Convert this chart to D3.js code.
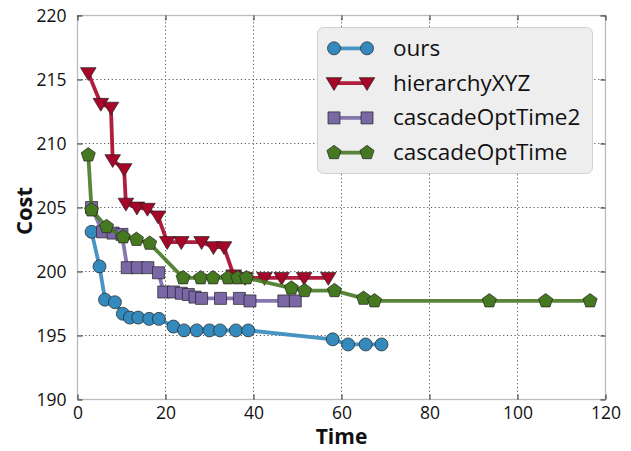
<!DOCTYPE html>
<html>
<head>
<meta charset="utf-8">
<script src="https://cdn.jsdelivr.net/npm/d3@7"></script>
<style>
  body { margin: 0; background: #fff; }
  text { font-family: "Open Sans", "DejaVu Sans", sans-serif; fill: #111; }
</style>
</head>
<body>
<div id="chart"></div>
<script>
// data
const seriesNames = ["ours", "hierarchyXYZ", "cascadeOptTime2", "cascadeOptTime"];

const oursTime = [3.2, 5.0, 6.25, 8.5, 10.3, 11.9, 13.8, 16.3, 18.5, 21.8, 24.2, 27.1, 30.0, 32.4, 36.0, 38.8, 58.0, 61.5, 65.5, 69.1];
const oursCost = [203.1, 200.4, 197.8, 197.6, 196.7, 196.4, 196.4, 196.3, 196.3, 195.7, 195.4, 195.4, 195.4, 195.4, 195.4, 195.4, 194.7, 194.3, 194.3, 194.3];

const hierTime = [2.45, 5.3, 7.6, 8.0, 10.6, 11.0, 13.5, 15.9, 18.3, 20.4, 23.6, 28.2, 30.9, 33.3, 35.5, 38.1, 42.5, 46.4, 51.5, 57.0];
const hierCost = [215.5, 213.1, 212.8, 208.7, 208.0, 205.3, 205.0, 204.9, 204.3, 202.3, 202.3, 202.3, 201.9, 201.9, 199.7, 199.5, 199.5, 199.5, 199.5, 199.5];

const cot2Time = [3.2, 5.7, 8.1, 10.1, 11.3, 13.6, 16.0, 18.4, 19.6, 21.8, 23.6, 25.2, 26.7, 28.2, 32.5, 36.8, 39.2, 46.9, 49.5];
const cot2Cost = [205.0, 203.1, 203.0, 202.9, 200.3, 200.3, 200.3, 199.9, 198.4, 198.4, 198.3, 198.2, 198.0, 197.9, 197.9, 197.9, 197.7, 197.7, 197.7];

const cotTime = [2.45, 3.2, 6.6, 10.4, 13.4, 16.4, 24.0, 28.0, 30.8, 34.2, 36.4, 38.4, 48.6, 51.6, 58.4, 65.0, 67.5, 93.6, 106.4, 116.5];
const cotCost = [209.1, 204.8, 203.5, 202.7, 202.5, 202.2, 199.5, 199.5, 199.5, 199.5, 199.5, 199.5, 198.7, 198.5, 198.5, 197.9, 197.7, 197.7, 197.7, 197.7];

const xTicks = [0, 20, 40, 60, 80, 100, 120];
const yTicks = [190, 195, 200, 205, 210, 215, 220];

const colors = ["#348ABD", "#A60628", "#7A68A6", "#467821"];
const shapes = ["circle", "triangleDown", "square", "pentagon"];

const allSeries = [
  { name: seriesNames[0], time: oursTime, cost: oursCost },
  { name: seriesNames[1], time: hierTime, cost: hierCost },
  { name: seriesNames[2], time: cot2Time, cost: cot2Cost },
  { name: seriesNames[3], time: cotTime, cost: cotCost },
];

const width = 631, height = 451;
const margin = { top: 15.5, right: 25.5, bottom: 51.5, left: 77.5 };

const svg = d3.select("#chart").append("svg")
  .attr("width", width)
  .attr("height", height);

const x = d3.scaleLinear().domain([0, 120]).range([margin.left, width - margin.right]);
const y = d3.scaleLinear().domain([190, 220]).range([height - margin.bottom, margin.top]);

// grid, dotted
svg.append("g").selectAll("line").data(xTicks).enter().append("line")
  .attr("x1", d => x(d)).attr("x2", d => x(d))
  .attr("y1", y(190)).attr("y2", y(220))
  .attr("stroke", "#444").attr("stroke-width", 0.9).attr("stroke-dasharray", "1.2,2.6");
svg.append("g").selectAll("line").data(yTicks).enter().append("line")
  .attr("y1", d => y(d)).attr("y2", d => y(d))
  .attr("x1", x(0)).attr("x2", x(120))
  .attr("stroke", "#444").attr("stroke-width", 0.9).attr("stroke-dasharray", "1.2,2.6");

// frame
svg.append("rect")
  .attr("x", x(0)).attr("y", y(220))
  .attr("width", x(120) - x(0)).attr("height", y(190) - y(220))
  .attr("fill", "none").attr("stroke", "#bcbcbc").attr("stroke-width", 1.3);

// axes with inward ticks on all four sides
const bottomAxis = svg.append("g").attr("transform", `translate(0,${y(190)})`)
  .call(d3.axisBottom(x).tickValues(xTicks).tickSize(-5).tickPadding(7));
const topAxis = svg.append("g").attr("transform", `translate(0,${y(220)})`)
  .call(d3.axisTop(x).tickValues(xTicks).tickSize(-5).tickFormat(""));
const leftAxis = svg.append("g").attr("transform", `translate(${x(0)},0)`)
  .call(d3.axisLeft(y).tickValues(yTicks).tickSize(-5).tickPadding(11));
const rightAxis = svg.append("g").attr("transform", `translate(${x(120)},0)`)
  .call(d3.axisRight(y).tickValues(yTicks).tickSize(-5).tickFormat(""));

[bottomAxis, topAxis, leftAxis, rightAxis].forEach(a => {
  a.select(".domain").remove();
  a.selectAll(".tick line").attr("stroke", "#222").attr("stroke-width", 1);
  a.selectAll(".tick text").style("font-size", "17.5px").attr("fill", "#111");
});

// marker paths
function markerPath(shape, cx, cy) {
  if (shape === "circle") {
    const r = 6.5;
    return `M${cx - r},${cy}a${r},${r} 0 1,0 ${2 * r},0a${r},${r} 0 1,0 ${-2 * r},0Z`;
  }
  if (shape === "square") {
    const h = 6;
    return `M${cx - h},${cy - h}H${cx + h}V${cy + h}H${cx - h}Z`;
  }
  if (shape === "triangleDown") {
    const r = 7.8;
    return `M${cx - r},${cy - r * 0.7}L${cx + r},${cy - r * 0.7}L${cx},${cy + r * 0.95}Z`;
  }
  // pentagon
  const r = 7.4;
  let p = "";
  for (let k = 0; k < 5; k++) {
    const a = -Math.PI / 2 + k * 2 * Math.PI / 5;
    p += (k ? "L" : "M") + (cx + r * Math.cos(a)) + "," + (cy + r * Math.sin(a));
  }
  return p + "Z";
}

const line = d3.line().x(d => x(d[0])).y(d => y(d[1]));

allSeries.forEach((s, i) => {
  const pts = s.time.map((t, j) => [t, s.cost[j]]);
  const g = svg.append("g");
  g.append("path")
    .datum(pts)
    .attr("d", line)
    .attr("fill", "none")
    .attr("stroke", colors[i])
    .attr("stroke-width", 3.8)
    .attr("stroke-opacity", 0.9)
    .attr("stroke-linejoin", "round");
  g.selectAll(".mk").data(pts).enter().append("path")
    .attr("d", d => markerPath(shapes[i], x(d[0]), y(d[1])))
    .attr("fill", colors[i])
    .attr("stroke", "#222")
    .attr("stroke-width", 0.7);
});

// axis labels
svg.append("text")
  .attr("x", (x(0) + x(120)) / 2).attr("y", 444)
  .attr("text-anchor", "middle")
  .style("font-size", "21px").style("font-weight", "bold")
  .text("Time");
svg.append("text")
  .attr("transform", "translate(32,211) rotate(-90)")
  .attr("text-anchor", "middle")
  .style("font-size", "22px").style("font-weight", "bold")
  .text("Cost");

// legend
const legend = svg.append("g");
legend.append("rect")
  .attr("x", 317.5).attr("y", 27.5).attr("width", 275).attr("height", 146).attr("rx", 6)
  .attr("fill", "#eeeeee").attr("stroke", "#d0d0d0").attr("stroke-width", 1);

allSeries.forEach((s, i) => {
  const cy = 48.3 + i * 34.8;
  legend.append("line")
    .attr("x1", 334).attr("x2", 367).attr("y1", cy).attr("y2", cy)
    .attr("stroke", colors[i]).attr("stroke-width", 3.8).attr("stroke-opacity", 0.9);
  [334, 367].forEach(px => {
    legend.append("path")
      .attr("d", markerPath(shapes[i], px, cy))
      .attr("fill", colors[i]).attr("stroke", "#222").attr("stroke-width", 0.7);
  });
  legend.append("text")
    .attr("x", 393).attr("y", cy + 7.5)
    .style("font-size", "22.5px")
    .text(s.name);
});
</script>
</body>
</html>
